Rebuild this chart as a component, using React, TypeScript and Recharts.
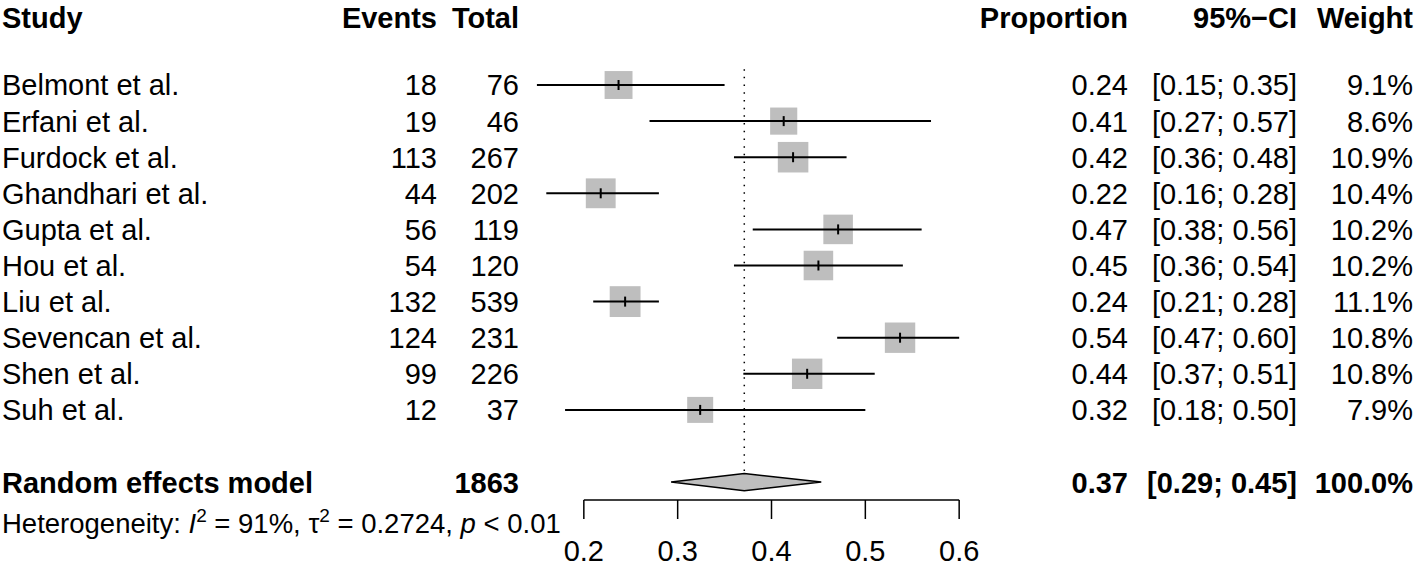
import { ComposedChart, XAxis, YAxis, Scatter, ReferenceLine, ReferenceArea } from "recharts";

const studies = [
  "Belmont et al.",
  "Erfani et al.",
  "Furdock et al.",
  "Ghandhari et al.",
  "Gupta et al.",
  "Hou et al.",
  "Liu et al.",
  "Sevencan et al.",
  "Shen et al.",
  "Suh et al.",
];
const events = [18, 19, 113, 44, 56, 54, 132, 124, 99, 12];
const totals = [76, 46, 267, 202, 119, 120, 539, 231, 226, 37];
const proportions = [0.237, 0.413, 0.423, 0.218, 0.471, 0.45, 0.244, 0.537, 0.438, 0.324];
const ciLower = [0.15, 0.27, 0.36, 0.16, 0.38, 0.36, 0.21, 0.47, 0.37, 0.18];
const ciUpper = [0.35, 0.57, 0.48, 0.28, 0.56, 0.54, 0.28, 0.6, 0.51, 0.5];
const weights = [9.1, 8.6, 10.9, 10.4, 10.2, 10.2, 11.1, 10.8, 10.8, 7.9];

const pooled = { est: 0.371, lo: 0.293, hi: 0.453, total: 1863, weight: "100.0%" };
const heterogeneity = { i2: "91%", tau2: "0.2724", p: "< 0.01" };
const xTicks = [0.2, 0.3, 0.4, 0.5, 0.6];

const HEADER_ROW = -1.87;
const POOLED_ROW = 11;
const rowTicks = [HEADER_ROW, ...studies.map((_, i) => i), POOLED_ROW];

const FONT = "Liberation Sans, Arial, Helvetica, sans-serif";
const FS = 29;
const FS_HET = 27.5;
const GREY = "#BEBEBE";

const squares = studies.map((s, i) => ({ x: proportions[i], y: i, w: weights[i] }));
const ciData = studies.map((s, i) => [
  { x: ciLower[i], y: i },
  { x: ciUpper[i], y: i },
]);

const f2 = (v: number) => v.toFixed(2);

const RowTick = (props: any) => {
  const { y, payload } = props;
  const v = payload.value;
  const common = { fontFamily: FONT, fontSize: FS, fill: "#000", dy: "0.36em" } as any;
  if (v === HEADER_ROW) {
    return (
      <g fontWeight="bold">
        <text {...common} x={2} y={y}>Study</text>
        <text {...common} x={437} y={y} textAnchor="end">Events</text>
        <text {...common} x={519} y={y} textAnchor="end">Total</text>
        <text {...common} x={1128} y={y} textAnchor="end">Proportion</text>
        <text {...common} x={1297} y={y} textAnchor="end">95%−CI</text>
        <text {...common} x={1413} y={y} textAnchor="end">Weight</text>
      </g>
    );
  }
  if (v === POOLED_ROW) {
    return (
      <g>
        <g fontWeight="bold">
          <text {...common} x={2} y={y}>Random effects model</text>
          <text {...common} x={519} y={y} textAnchor="end">{pooled.total}</text>
          <text {...common} x={1128} y={y} textAnchor="end">{f2(pooled.est)}</text>
          <text {...common} x={1297} y={y} textAnchor="end">{`[${f2(pooled.lo)}; ${f2(pooled.hi)}]`}</text>
          <text {...common} x={1413} y={y} textAnchor="end">{pooled.weight}</text>
        </g>
        <text fontFamily={FONT} fontSize={FS_HET} fill="#000" x={2} y={y + 41} dy="0.36em">
          {"Heterogeneity: "}
          <tspan fontStyle="italic">I</tspan>
          <tspan fontSize={19} dy={-11}>2</tspan>
          <tspan dy={11}>{` = ${heterogeneity.i2}, τ`}</tspan>
          <tspan fontSize={19} dy={-11}>2</tspan>
          <tspan dy={11}>{` = ${heterogeneity.tau2}, `}</tspan>
          <tspan fontStyle="italic">p</tspan>
          <tspan>{` ${heterogeneity.p}`}</tspan>
        </text>
      </g>
    );
  }
  const i = v as number;
  if (i < 0 || i >= studies.length) return <g />;
  return (
    <g>
      <text {...common} x={2} y={y}>{studies[i]}</text>
      <text {...common} x={437} y={y} textAnchor="end">{events[i]}</text>
      <text {...common} x={519} y={y} textAnchor="end">{totals[i]}</text>
      <text {...common} x={1128} y={y} textAnchor="end">{f2(proportions[i])}</text>
      <text {...common} x={1297} y={y} textAnchor="end">{`[${f2(ciLower[i])}; ${f2(ciUpper[i])}]`}</text>
      <text {...common} x={1413} y={y} textAnchor="end">{`${weights[i].toFixed(1)}%`}</text>
    </g>
  );
};

const SquareShape = (props: any) => {
  const { cx, cy, payload } = props;
  const s = 9.25 * Math.sqrt(payload.w);
  return <rect x={cx - s / 2} y={cy - s / 2} width={s} height={s} fill={GREY} />;
};

const EstTick = (props: any) => {
  const { cx, cy } = props;
  return <line x1={cx} x2={cx} y1={cy - 5} y2={cy + 5} stroke="#000" strokeWidth={2} />;
};

const Diamond = (props: any) => {
  const { x, y, width, height } = props;
  const cy = y + height / 2;
  const cx = x + ((pooled.est - pooled.lo) / (pooled.hi - pooled.lo)) * width;
  const pts = `${x},${cy} ${cx},${y} ${x + width},${cy} ${cx},${y + height}`;
  return <polygon points={pts} fill={GREY} stroke="#000" strokeWidth={1.5} />;
};

const Nothing = () => <g />;

export default function App() {
  return (
    <div style={{ position: "absolute", left: 0, top: 0, background: "#fff" }}>
      <ComposedChart
        width={1418}
        height={568}
        margin={{ top: 0, right: 365, bottom: 0, left: 0 }}
      >
        <XAxis
          type="number"
          dataKey="x"
          domain={[0.1, 0.7]}
          ticks={xTicks}
          interval={0}
          axisLine={false}
          tickLine={{ stroke: "#000", strokeWidth: 1.5 }}
          tickSize={19}
          tickMargin={21}
          height={68}
          tickFormatter={(v: number) => v.toFixed(1)}
          tick={{ fill: "#000", fontSize: FS, fontFamily: FONT }}
        />
        <YAxis
          type="number"
          dataKey="y"
          domain={[-2.355, 11.496]}
          reversed
          ticks={rowTicks}
          interval={0}
          width={490}
          axisLine={false}
          tickLine={false}
          tick={<RowTick />}
        />
        <ReferenceLine
          segment={[{ x: 0.2, y: 11.496 }, { x: 0.6, y: 11.496 }]}
          stroke="#000"
          strokeWidth={1.5}
          ifOverflow="visible"
        />
        <Scatter data={squares} shape={<SquareShape />} isAnimationActive={false} />
        {ciData.map((d, i) => (
          <Scatter
            key={studies[i]}
            data={d}
            line={{ stroke: "#000", strokeWidth: 2 }}
            shape={<Nothing />}
            isAnimationActive={false}
          />
        ))}
        <Scatter data={squares} shape={<EstTick />} isAnimationActive={false} />
        <ReferenceLine
          segment={[{ x: pooled.est, y: -0.44 }, { x: pooled.est, y: POOLED_ROW - 0.24 }]}
          stroke="#000"
          strokeWidth={1.5}
          strokeDasharray="1.5 6.2"
          ifOverflow="visible"
        />
        <ReferenceArea
          x1={pooled.lo}
          x2={pooled.hi}
          y1={POOLED_ROW - 0.24}
          y2={POOLED_ROW + 0.24}
          ifOverflow="visible"
          shape={<Diamond />}
        />
      </ComposedChart>
    </div>
  );
}
